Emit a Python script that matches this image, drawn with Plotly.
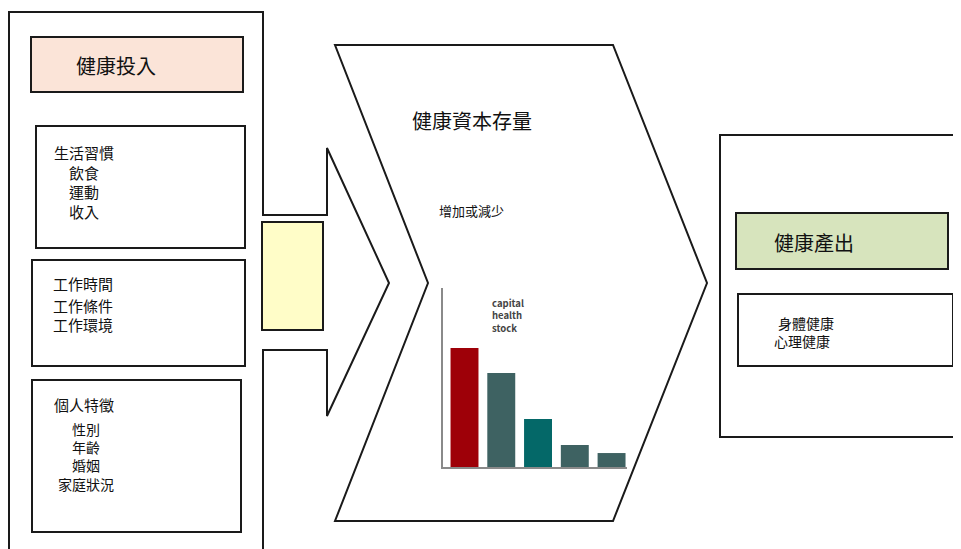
import plotly.graph_objects as go

# ---- data ----
bar_categories = ["t1", "t2", "t3", "t4", "t5"]
bar_values = [66.5, 52.5, 26.8, 12.3, 7.8]
bar_colors = ["#9E0008", "#3E6262", "#046868", "#3E6262", "#3E6262"]
bar_label = ["capital", "health", "stock"]

input_title = "健康投入"
lifestyle_title = "生活習慣"
lifestyle_items = ["飲食", "運動", "收入"]
work_lines = ["工作時間", "工作條件", "工作環境"]
personal_title = "個人特徵"
personal_items = ["性別", "年齡", "婚姻", "家庭狀況"]
stock_title = "健康資本存量"
stock_sub = "增加或減少"
output_title = "健康產出"
output_lines = ["身體健康", "心理健康"]

# page body has an 8px default margin; the figure fills the rest of the window
OFF = 8
PW, PH = 961, 549
W, H = PW - OFF, PH - OFF
FONT = "Noto Sans CJK TC, Noto Sans CJK SC, sans-serif"
LINE = dict(color="#1a1a1a", width=2)

fig = go.Figure()

fig.add_trace(go.Bar(
    x=bar_categories, y=bar_values, marker=dict(color=bar_colors, line=dict(width=0)),
    width=0.76, xaxis="x2", yaxis="y2", showlegend=False, hoverinfo="skip"))

shapes = []
shapes.append(dict(type="path", xref="x", yref="y", line=LINE, fillcolor="rgba(0,0,0,0)",
                   layer="below",
                   path="M 9,575 L 9,12 L 263,12 L 263,215 L 327,215 L 327,148 L 389,283 "
                        "L 327,416 L 327,350 L 263,350 L 263,575"))
shapes.append(dict(type="path", xref="x", yref="y", line=LINE, fillcolor="white",
                   layer="below",
                   path="M 335,45 L 613,45 L 707,283 L 613,521 L 335,521 L 428,283 Z"))
shapes.append(dict(type="path", xref="x", yref="y", line=LINE, fillcolor="rgba(0,0,0,0)",
                   layer="below",
                   path="M 975,135 L 720,135 L 720,437 L 975,437"))


def rect(x0, y0, x1, y1, fill="rgba(0,0,0,0)"):
    shapes.append(dict(type="rect", xref="x", yref="y", x0=x0, y0=y0, x1=x1, y1=y1,
                       line=LINE, fillcolor=fill, layer="below"))


rect(31, 37, 243, 92, "#FBE4D8")
rect(36, 126, 245, 248)
rect(32, 260, 245, 366)
rect(32, 380, 241, 532)
rect(262, 222, 323, 330, "#FFFDC8")
rect(736, 213, 948, 269, "#D7E4BD")
rect(738, 294, 953, 366)

ann = []


def txt(x, y, s, size, anchor="left", bold=False, color="#111", align="left"):
    ann.append(dict(x=x, y=y, xref="x", yref="y", text=("<b>%s</b>" % s) if bold else s,
                    showarrow=False, xanchor=anchor, yanchor="middle", align=align,
                    font=dict(family=FONT, size=size, color=color)))


txt(74, 65, input_title, 20)
lifestyle_text = "<br>".join([lifestyle_title] + ["\u3000" + s for s in lifestyle_items])
txt(52, 182, lifestyle_text, 15)
for s, y in zip(work_lines, [283, 305, 324]):
    txt(51, y, s, 15)
txt(52, 404, personal_title, 15)
txt(86, 456, "<br>".join(personal_items), 14, anchor="center", align="center")
txt(410, 120, stock_title, 20)
txt(437, 210, stock_sub, 13)
txt(490, 315, "<br>".join(bar_label), 9.5, bold=True, color="#444")
txt(772, 242, output_title, 20)
txt(776, 323, output_lines[0], 14)
txt(772, 341, output_lines[1], 14)

fig.update_layout(
    width=W, height=H, margin=dict(l=0, r=0, t=0, b=0),
    paper_bgcolor="white", plot_bgcolor="rgba(0,0,0,0)",
    xaxis=dict(range=[OFF, PW], visible=False, fixedrange=True),
    yaxis=dict(range=[PH, OFF], visible=False, fixedrange=True),
    xaxis2=dict(domain=[(443 - OFF) / W, (627 - OFF) / W], anchor="y2", range=[-0.585, 4.42],
                showline=True, linecolor="#8a8a8a", linewidth=1.5, showticklabels=False,
                ticks="", showgrid=False, zeroline=False),
    yaxis2=dict(domain=[1 - (467 - OFF) / H, 1 - (288 - OFF) / H], anchor="x2", range=[0, 100],
                showline=True, linecolor="#8a8a8a", linewidth=1.5, showticklabels=False,
                ticks="", showgrid=False, zeroline=False),
    shapes=shapes, annotations=ann, bargap=0.2,
)

fig.write_html("out.html")
